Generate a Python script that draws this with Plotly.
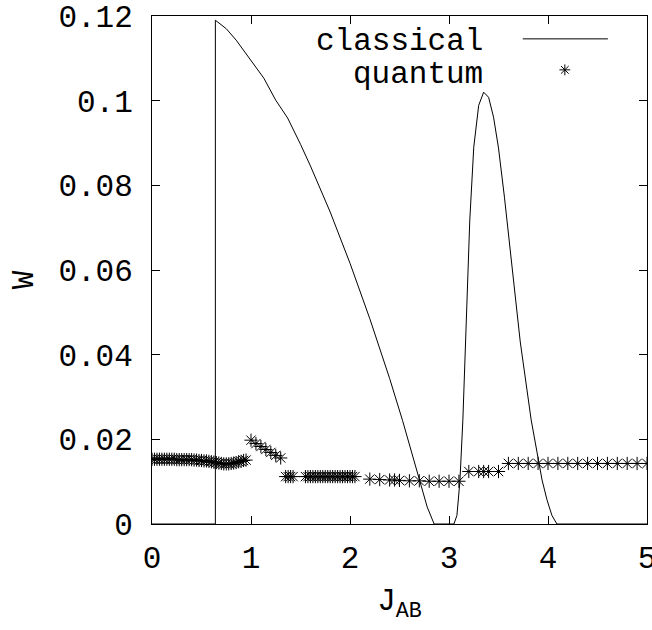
import plotly.graph_objects as go

# ---- data ----
classical_x = [0, 0.64, 0.64, 0.75, 0.85, 0.98, 1.13, 1.25, 1.37, 1.5, 1.6, 1.8, 2.0, 2.2, 2.4, 2.53,
               2.62, 2.70, 2.78, 2.85, 3.05, 3.08, 3.11, 3.14, 3.17, 3.19, 3.21, 3.25, 3.30, 3.35,
               3.40, 3.45, 3.50, 3.56, 3.64, 3.72, 3.83, 3.94, 3.99, 4.04, 4.09, 5.0]
classical_y = [0, 0, 0.119, 0.117, 0.1143, 0.110, 0.1053, 0.1001, 0.0959, 0.0897, 0.0846, 0.0737,
               0.0616, 0.0485, 0.0344, 0.0245, 0.017, 0.0104, 0.004, 0, 0, 0.002, 0.010, 0.0246,
               0.045, 0.0607, 0.0718, 0.089, 0.0989, 0.102, 0.1008, 0.0961, 0.0888, 0.0772, 0.0607,
               0.043, 0.0246, 0.0104, 0.0057, 0.002, 0, 0]

quantum_x = [0.000, 0.025, 0.050, 0.075, 0.100, 0.125, 0.150, 0.175, 0.200, 0.225, 0.250, 0.275,
             0.300, 0.325, 0.350, 0.375, 0.400, 0.425, 0.450, 0.475, 0.500, 0.525, 0.550, 0.575,
             0.600, 0.625, 0.650, 0.675, 0.700, 0.725, 0.750, 0.775, 0.800, 0.825, 0.850, 0.875,
             0.900, 0.925, 0.950,
             1.00, 1.05, 1.10, 1.15, 1.20, 1.25, 1.30,
             1.350, 1.375, 1.400, 1.425,
             1.550, 1.575, 1.600, 1.625, 1.650, 1.675, 1.700, 1.725, 1.750, 1.775, 1.800, 1.825,
             1.850, 1.875, 1.900, 1.925, 1.950, 1.975, 2.000, 2.025, 2.050,
             2.2, 2.3, 2.4, 2.45, 2.5, 2.6, 2.7, 2.8, 2.9, 3.0, 3.1,
             3.2, 3.3, 3.35, 3.4, 3.5,
             3.6, 3.7, 3.8, 3.9, 4.0, 4.1, 4.2, 4.3, 4.4, 4.5, 4.6, 4.7, 4.8, 4.9, 5.0]
quantum_y = [0.0153, 0.0153, 0.0153, 0.0153, 0.0153, 0.0153, 0.0153, 0.0153, 0.0153, 0.0153,
             0.0152, 0.0152, 0.0152, 0.0152, 0.0152, 0.0152, 0.0152, 0.0151, 0.0151, 0.0150,
             0.0150, 0.0149, 0.0149, 0.0148, 0.0147, 0.0146, 0.0145, 0.0144, 0.0143, 0.0142,
             0.0142, 0.0142, 0.0143, 0.0144, 0.0145, 0.0147, 0.0148, 0.0150, 0.0151,
             0.0198, 0.0190, 0.0183, 0.0176, 0.0169, 0.0162, 0.0156,
             0.0112, 0.0112, 0.0112, 0.0112,
             0.0112, 0.0112, 0.0112, 0.0112, 0.0112, 0.0112, 0.0112, 0.0112, 0.0112, 0.0112,
             0.0112, 0.0112, 0.0112, 0.0112, 0.0112, 0.0112, 0.0112, 0.0112, 0.0112, 0.0112, 0.0112,
             0.0106, 0.0105, 0.0104, 0.0104, 0.0103, 0.0102, 0.0102, 0.0101, 0.0101, 0.0101, 0.0101,
             0.0124, 0.0124, 0.0124, 0.0124, 0.0124,
             0.0143, 0.0143, 0.0143, 0.0143, 0.0143, 0.0143, 0.0143, 0.0143, 0.0143, 0.0143,
             0.0143, 0.0143, 0.0143, 0.0143, 0.0143]

x_ticks = [0, 1, 2, 3, 4, 5]
x_tick_labels = ["0", "1", "2", "3", "4", "5"]
y_ticks = [0, 0.02, 0.04, 0.06, 0.08, 0.1, 0.12]
y_tick_labels = ["0", "0.02", "0.04", "0.06", "0.08", "0.1", "0.12"]

series_names = ["classical", "quantum"]
x_title = "J<sub>AB</sub>"
y_title = "W"

FONT = "Liberation Mono, Courier New, monospace"
FS = 31

fig = go.Figure()
fig.add_trace(go.Scatter(x=classical_x, y=classical_y, mode="lines",
                         line=dict(color="black", width=1), showlegend=False))
fig.add_trace(go.Scatter(x=quantum_x, y=quantum_y, mode="markers",
                         marker=dict(symbol="asterisk-open", size=11, color="black",
                                     line=dict(color="black", width=1)),
                         showlegend=False))
# legend key for quantum (on an overlay axis in 0..1 units)
fig.add_trace(go.Scatter(x=[0.834], y=[0.894], mode="markers", xaxis="x2", yaxis="y2",
                         marker=dict(symbol="asterisk-open", size=9, color="black",
                                     line=dict(color="black", width=1)),
                         showlegend=False, hoverinfo="skip"))

axis_common = dict(showgrid=False, zeroline=False, showline=True, linecolor="black", linewidth=1,
                   mirror="ticks", ticks="inside", ticklen=8, tickcolor="black", tickwidth=1,
                   automargin=False, ticklabeloverflow="allow",
                   tickfont=dict(family=FONT, size=FS, color="black"))

fig.update_layout(
    width=652, height=630,
    margin=dict(l=152, r=5, t=16, b=106),
    paper_bgcolor="white", plot_bgcolor="white",
    xaxis=dict(range=[0, 5], tickvals=x_ticks, ticktext=x_tick_labels,
               ticklabelstandoff=6,
               title=dict(text=x_title, font=dict(family=FONT, size=FS, color="black"),
                          standoff=12),
               **axis_common),
    yaxis=dict(range=[0, 0.12], tickvals=y_ticks, ticktext=y_tick_labels,
               ticklabelstandoff=12,
               **axis_common),
    xaxis2=dict(range=[0, 1], overlaying="x", visible=False, fixedrange=True),
    yaxis2=dict(range=[0, 1], overlaying="y", visible=False, fixedrange=True),
    showlegend=False,
)

fig.add_annotation(text=y_title, xref="paper", yref="paper", x=-0.2586, y=0.482,
                   xanchor="center", yanchor="middle", textangle=-90, showarrow=False,
                   font=dict(family=FONT, size=FS, color="black"))
fig.add_annotation(text=series_names[0], xref="paper", yref="paper", x=0.673, y=0.949,
                   xanchor="right", yanchor="middle", showarrow=False,
                   font=dict(family=FONT, size=FS, color="black"))
fig.add_annotation(text=series_names[1], xref="paper", yref="paper", x=0.673, y=0.884,
                   xanchor="right", yanchor="middle", showarrow=False,
                   font=dict(family=FONT, size=FS, color="black"))
fig.add_shape(type="line", xref="paper", yref="paper", x0=0.749, x1=0.921, y0=0.955, y1=0.955,
              line=dict(color="black", width=1))

# remove the default 8px page margin so the figure starts at the window's corner
fig.write_html("out.html", config={"displayModeBar": False},
               post_script="document.body.style.margin='0px';document.body.style.overflow='hidden';")
